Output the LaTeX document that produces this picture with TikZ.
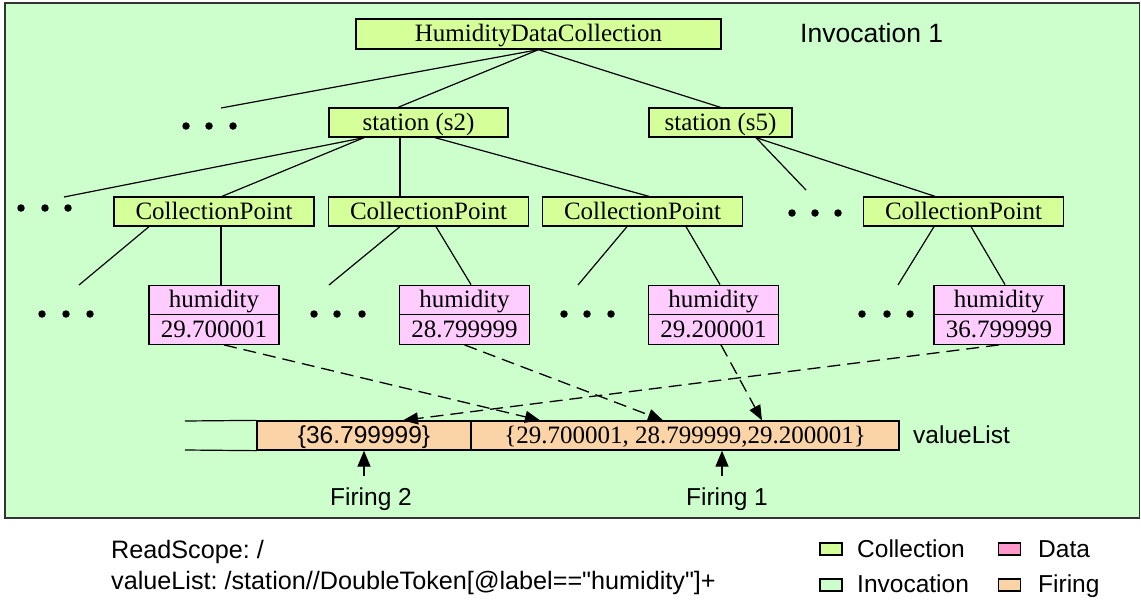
\documentclass[tikz,border=0pt]{standalone}
\usepackage{fontspec}
\setmainfont{Liberation Serif}
\newfontfamily\arialf{Liberation Sans}
\usetikzlibrary{arrows.meta,calc}
\frenchspacing
\definecolor{invoc}{RGB}{204,255,204}
\definecolor{collc}{RGB}{212,255,153}
\definecolor{datac}{RGB}{255,204,255}
\definecolor{datal}{RGB}{255,153,204}
\definecolor{firc}{RGB}{250,211,166}
\tikzset{
  box/.style={draw, line width=1.3pt, inner sep=0pt, text height=19pt, text depth=4pt, anchor=center},
  coll/.style={box, fill=collc, minimum height=29pt},
  cpbox/.style={coll, minimum width=200pt},
  datan/.style={box, fill=datac, minimum width=130pt, minimum height=29.5pt},
  firbox/.style={box, fill=firc, minimum height=29pt},
  tree/.style={line width=1.2pt},
  flow/.style={line width=1.3pt, dash pattern=on 13pt off 7pt, -{Triangle[length=15pt,width=12pt]}},
  fire/.style={line width=1.3pt, -{Triangle[length=16pt,width=13pt]}},
  sanstext/.style={font=\arialf\fontsize{24.5}{29}\selectfont, inner sep=0pt},
  dotn/.style={circle, fill=black, inner sep=0pt, minimum size=7.5pt},
  legsq/.style={draw, line width=1.2pt, minimum width=22pt, minimum height=12pt, inner sep=0pt}
}
\begin{document}
\begin{tikzpicture}[x=1pt,y=-1pt,font=\fontsize{25}{30}\selectfont]
\useasboundingbox (0,0) rectangle (1141,600);
% invocation frame
\fill[invoc] (5,3) rectangle (1139.5,518);
\draw[line width=1.6pt, black!80] (5,3) rectangle (1139.5,518);

% collection nodes
\node[coll, minimum width=365pt, minimum height=30pt] (hdc) at (538.5,34) {HumidityDataCollection};
\node[sanstext, font=\arialf\fontsize{26.5}{31}\selectfont, anchor=west] (inv) at (800,33) {Invocation 1};
\node[coll, minimum width=179pt] (s2) at (418.5,122.5) {station (s2)};
\node[coll, minimum width=143pt] (s5) at (720.5,122.5) {station (s5)};
\node[cpbox] (cp1) at (214,211.5) {CollectionPoint};
\node[cpbox] (cp2) at (428.5,211.5) {CollectionPoint};
\node[cpbox] (cp3) at (642.5,211.5) {CollectionPoint};
\node[cpbox] (cp4) at (963.5,211.5) {CollectionPoint};

% data nodes
\node[datan] (h1) at (214,300) {humidity};
\node[datan] (v1) at (214,329.5) {29.700001};
\node[datan] (h2) at (464.5,300) {humidity};
\node[datan] (v2) at (464.5,329.5) {28.799999};
\node[datan] (h3) at (713.5,300) {humidity};
\node[datan] (v3) at (713.5,329.5) {29.200001};
\node[datan] (h4) at (999,300) {humidity};
\node[datan] (v4) at (999,329.5) {36.799999};

% ellipsis dots
\foreach \x/\y in {186/126,209/126,233/126,
                   21/208,45/208,68/208,
                   792/213,815/213,838/213,
                   42/314,66/314,90/314,
                   314/314,337/314,362/314,
                   564/314,587/314,611/314,
                   862/314,887/314,910/314}
  \node[dotn] at (\x,\y) {};

% free ends of tree lines
\coordinate (e1) at (221,108);
\coordinate (e2) at (64,197);
\coordinate (e3) at (806,190);
\coordinate (e4) at (79,285);
\coordinate (e5) at (329,285);
\coordinate (e6) at (578,285);
\coordinate (e7) at (898,285);

% tree lines
\draw[tree] (hdc.south) -- (e1);
\draw[tree] (hdc.south) -- ([xshift=-20.5pt]s2.north);
\draw[tree] (hdc.south) -- (s5.north);
\draw[tree] ([xshift=-54.5pt]s2.south) -- (e2);
\draw[tree] ([xshift=-54.5pt]s2.south) -- ([xshift=8pt]cp1.north);
\draw[tree] ([xshift=-18.5pt]s2.south) -- ([xshift=-28.5pt]cp2.north);
\draw[tree] ([xshift=16.5pt]s2.south) -- ([xshift=6.5pt]cp3.north);
\draw[tree] ([xshift=35.5pt]s5.south) -- (e3);
\draw[tree] ([xshift=35.5pt]s5.south) -- ([xshift=-28.5pt]cp4.north);
\draw[tree] ([xshift=-65pt]cp1.south) -- (e4);
\draw[tree] ([xshift=7pt]cp1.south) -- ([xshift=7pt]h1.north);
\draw[tree] ([xshift=-28.5pt]cp2.south) -- (e5);
\draw[tree] ([xshift=7.5pt]cp2.south) -- ([xshift=6.5pt]h2.north);
\draw[tree] ([xshift=-15.5pt]cp3.south) -- (e6);
\draw[tree] ([xshift=43.5pt]cp3.south) -- ([xshift=6.5pt]h3.north);
\draw[tree] ([xshift=-29.5pt]cp4.south) -- (e7);
\draw[tree] ([xshift=7.5pt]cp4.south) -- ([xshift=6pt]h4.north);

% firing list
\node[firbox, minimum width=214pt, font=\arialf\fontsize{24.5}{29}\selectfont] (f2) at (364,435.5) {\{36.799999\}};
\node[firbox, minimum width=428pt] (f1) at (685,435.5) {\{29.700001, 28.799999,29.200001\}};
\coordinate (l1) at (185,421);
\coordinate (l2) at (185,450);
\draw[tree] (l1) -- (f2.north west);
\draw[tree] (l2) -- (f2.south west);
\node[sanstext, anchor=west] (vl) at (913,435) {valueList};

% firing pointers
\node[sanstext, anchor=base] (fr2) at (371,505) {Firing 2};
\node[sanstext, anchor=base] (fr1) at (727,505) {Firing 1};
\coordinate (a2) at (364,476);
\coordinate (a1) at (722,476);
\draw[fire] (a2) -- (f2.south);
\draw[fire] (a1) -- ([xshift=37pt]f1.south);

% data flow
\draw[flow] ([xshift=10pt]v1.south) -- ([xshift=-145pt]f1.north);
\draw[flow] (v2.south) -- ([xshift=-22pt]f1.north);
\draw[flow] ([xshift=7.5pt]v3.south) -- ([xshift=77pt]f1.north);
\draw[flow] (v4.south) -- ([xshift=39pt]f2.north);

% scope text
\node[sanstext, font=\arialf\fontsize{25.2}{30}\selectfont, anchor=base west] (rs) at (111,558) {ReadScope: /};
\node[sanstext, font=\arialf\fontsize{25.2}{30}\selectfont, anchor=base west] (vq) at (111,589) {valueList: /station//DoubleToken[@label=="humidity"]+};

% legend
\node[legsq, fill=collc] (lc) at (831,549) {};
\node[sanstext, anchor=base west] (lct) at (857,557) {Collection};
\node[legsq, fill=datal] (ld) at (1009.5,549) {};
\node[sanstext, anchor=base west] (ldt) at (1038,557) {Data};
\node[legsq, fill=invoc] (li) at (831,585) {};
\node[sanstext, anchor=base west] (lit) at (857,592) {Invocation};
\node[legsq, fill=firc] (lf) at (1009.5,585) {};
\node[sanstext, anchor=base west] (lft) at (1038,592) {Firing};
\end{tikzpicture}
\end{document}
